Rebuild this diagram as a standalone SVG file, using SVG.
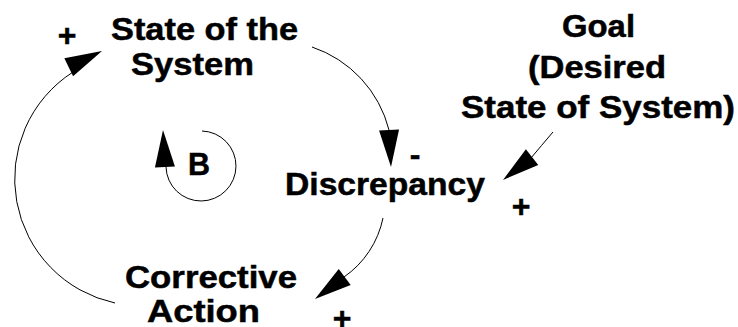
<svg xmlns="http://www.w3.org/2000/svg" xmlns:xlink="http://www.w3.org/1999/xlink" width="738" height="327" viewBox="0 0 738 327">
<style>
  text { font-family: "Liberation Sans", Arial, Helvetica, sans-serif; font-weight: bold; font-size: 32px; fill: #000; stroke: #000; stroke-width: 0.5; }
  .link { fill: none; stroke: #000; stroke-width: 1; }
  .head { fill: #000; stroke: none; }
  .sign { text-anchor: middle; }
</style>
<defs>
  <polygon id="ah" class="head" points="0,0 -37,-10 -37,10"/>
</defs>
<rect width="738" height="327" fill="#fff"/>
<g id="connectors">
  <path class="link" d="M115,303 A127,127 0 0 1 73,72"/>
  <use xlink:href="#ah" href="#ah" transform="translate(102,51) rotate(-25.9)"/>
  <path class="link" d="M312,47 A118,118 0 0 1 389,130"/>
  <use xlink:href="#ah" href="#ah" transform="translate(391,167) rotate(87)"/>
  <path class="link" d="M553,132 Q541,146 531,158"/>
  <use xlink:href="#ah" href="#ah" transform="translate(503,180) rotate(141.8)"/>
  <path class="link" d="M383,218 A95,95 0 0 1 344,277"/>
  <use xlink:href="#ah" href="#ah" transform="translate(315,299) rotate(143.4)"/>
</g>
<g id="loop-B">
  <path class="link" d="M202,131 A35,35 0 1 1 166,167"/>
  <use xlink:href="#ah" href="#ah" transform="translate(163,130) rotate(-93)"/>
  <text x="188" y="175" textLength="22" lengthAdjust="spacingAndGlyphs">B</text>
</g>
<g id="node-state">
  <text x="111" y="40" textLength="187" lengthAdjust="spacingAndGlyphs">State of the</text>
  <text x="131" y="75" textLength="123" lengthAdjust="spacingAndGlyphs">System</text>
</g>
<g id="node-goal">
  <text x="562" y="37" textLength="73" lengthAdjust="spacingAndGlyphs">Goal</text>
  <text x="528" y="78" textLength="138" lengthAdjust="spacingAndGlyphs">(Desired</text>
  <text x="461" y="118" textLength="274" lengthAdjust="spacingAndGlyphs">State of System)</text>
</g>
<g id="node-discrepancy">
  <text x="285" y="195" textLength="200" lengthAdjust="spacingAndGlyphs">Discrepancy</text>
</g>
<g id="node-corrective">
  <text x="125" y="288" textLength="172" lengthAdjust="spacingAndGlyphs">Corrective</text>
  <text x="147" y="322" textLength="113" lengthAdjust="spacingAndGlyphs">Action</text>
</g>
<g id="polarities">
  <text class="sign" x="67" y="46">+</text>
  <text class="sign" x="415" y="165">-</text>
  <text class="sign" x="521" y="217">+</text>
  <text class="sign" x="342" y="329">+</text>
</g>
</svg>
